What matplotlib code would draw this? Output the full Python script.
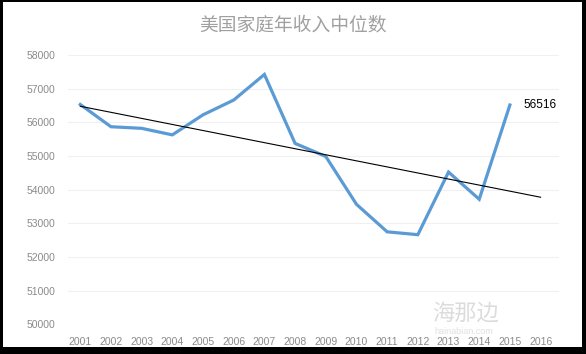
import numpy as np
import matplotlib
matplotlib.use("Agg")
import matplotlib.pyplot as plt
from matplotlib.patches import Rectangle

plt.rcParams['font.family'] = ['Liberation Sans', 'Noto Sans CJK SC', 'DejaVu Sans']

title = "美国家庭年收入中位数"
years = ["2001", "2002", "2003", "2004", "2005", "2006", "2007", "2008",
         "2009", "2010", "2011", "2012", "2013", "2014", "2015", "2016"]
income = [56531, 55871, 55823, 55629, 56224, 56663, 57423, 55376,
          54988, 53568, 52751, 52666, 54525, 53718, 56516]
yticks = [50000, 51000, 52000, 53000, 54000, 55000, 56000, 57000, 58000]
last_label = "56516"

W, H = 586, 354
fig = plt.figure(figsize=(W / 100, H / 100), dpi=100)
fig.patch.set_facecolor("white")

ax = fig.add_axes([68 / W, 29.5 / H, (559 - 68) / W, (299 - 29.5) / H])
xs = np.arange(1, len(income) + 1)
ax.plot(xs, income, color="#5B9BD5", lw=2.3, solid_joinstyle="miter", zorder=3)

# linear trendline (fit on available data, drawn across all categories)
k, b = np.polyfit(xs, income, 1)
xt = np.array([1, len(years)])
ax.plot(xt, k * xt + b, color="black", lw=0.8, zorder=4)

ax.text(xs[-1] + 0.45, income[-1], last_label, fontsize=8.5, color="black",
        va="center", ha="left")

ax.set_xlim(0.6, 16.6)
ax.set_ylim(50000, 58000)
ax.set_yticks(yticks)
ax.set_yticklabels([str(v) for v in yticks])
ax.set_xticks(np.arange(1, len(years) + 1))
ax.set_xticklabels(years)
ax.tick_params(axis="both", length=0, labelsize=7.5, labelcolor="#8a8a8a")
ax.tick_params(axis="y", pad=9)
ax.tick_params(axis="x", pad=9)
ax.grid(axis="y", color="#f0f0f0", lw=0.8)
for s in ax.spines.values():
    s.set_visible(False)

fig.text(0.5, (H - 25) / H, title, ha="center", va="center", fontsize=13.5,
         color="#a0a0a0", family=['Noto Sans CJK SC', 'DejaVu Sans'], fontweight="light")

# watermark
fig.text(432 / W, (H - 313) / H, "海那边", fontsize=16, color="#dcdcdc",
         ha="left", va="center", family=['Noto Sans CJK SC', 'DejaVu Sans'],
         fontweight="light", zorder=0)
fig.text(434 / W, (H - 332) / H, "hainabian.com", fontsize=6.5, color="#e0e0e0",
         ha="left", va="center", zorder=0)

# black frame
def frame(x0, y0, w, h):
    fig.patches.append(Rectangle((x0 / W, y0 / H), w / W, h / H, transform=fig.transFigure,
                                 facecolor="black", edgecolor="none", zorder=10))
frame(0, H - 2, W, 2)
frame(0, 0, W, 7)
frame(0, 0, 3, H)
frame(W - 4, 0, 4, H)

fig.savefig("out.png", dpi=100)
